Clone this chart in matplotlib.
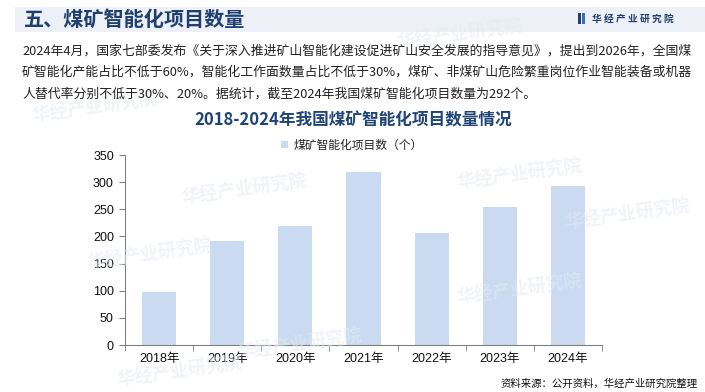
import matplotlib
matplotlib.use("Agg")
import matplotlib.pyplot as plt
from matplotlib.patches import Rectangle
from matplotlib.ticker import FixedLocator, NullFormatter

plt.rcParams['font.family'] = ['Liberation Sans', 'Noto Sans CJK SC', 'DejaVu Sans']

years = ["2018年", "2019年", "2020年", "2021年", "2022年", "2023年", "2024年"]
values = [98, 192, 220, 319, 207, 255, 292]
yticks = [0, 50, 100, 150, 200, 250, 300, 350]

header_title = "五、煤矿智能化项目数量"
brand = "华 经 产 业 研 究 院"
watermark = "华经产业研究院"
body_lines = [
    "2024年4月，国家七部委发布《关于深入推进矿山智能化建设促进矿山安全发展的指导意见》，提出到2026年，全国煤",
    "矿智能化产能占比不低于60%，智能化工作面数量占比不低于30%，煤矿、非煤矿山危险繁重岗位作业智能装备或机器",
    "人替代率分别不低于30%、20%。据统计，截至2024年我国煤矿智能化项目数量为292个。",
]
chart_title = "2018-2024年我国煤矿智能化项目数量情况"
legend_label = "煤矿智能化项目数（个）"
source = "资料来源：公开资料，华经产业研究院整理"

W, H = 705, 392
fig = plt.figure(figsize=(W / 100, H / 100), dpi=100)
fig.patch.set_facecolor("white")

cjk = ['Noto Sans CJK SC', 'DejaVu Sans']
dark_blue = "#1F3F6E"

# header band
fig.patches.append(Rectangle((15 / W, 1 - 32 / H), 1 - 15 / W, 25 / H,
                             transform=fig.transFigure, facecolor="#EDF1F7",
                             edgecolor="none", zorder=0))
fig.text(24 / W, 1 - 19.5 / H, header_title, fontsize=14.5, fontweight="bold",
         color=dark_blue, family=cjk, va="center", ha="left")
# brand icon
fig.patches.append(Rectangle((578 / W, 1 - 24 / H), 2.5 / W, 11 / H,
                             transform=fig.transFigure, facecolor=dark_blue,
                             edgecolor="none"))
fig.patches.append(Rectangle((582 / W, 1 - 24 / H), 2.5 / W, 11 / H,
                             transform=fig.transFigure, facecolor="#3A6FB0",
                             edgecolor="none"))
fig.text(592 / W, 1 - 18.5 / H, brand, fontsize=7, fontweight="bold",
         color=dark_blue, family=cjk, va="center", ha="left")

# faint watermarks
for wx, wy in [(460, 35), (95, 108), (245, 190), (150, 255), (520, 175),
               (628, 215), (180, 372), (300, 345), (520, 290)]:
    fig.text(wx / W, 1 - wy / H, watermark, fontsize=13, fontweight="bold",
             color="#E4EAF2", alpha=0.55, family=cjk, rotation=8,
             va="center", ha="center", zorder=0)

# body text
for i, line in enumerate(body_lines):
    fig.text(22 / W, 1 - (51 + i * 21.5) / H, line, fontsize=9.25,
             color="#222222", family=cjk, va="center", ha="left")

# chart title
fig.text(353 / W, 1 - 120 / H, chart_title, fontsize=12, fontweight="bold",
         color="#1F4577", family=cjk, va="center", ha="center")

# axes
ax = fig.add_axes([125 / W, 1 - 345 / H, (602 - 125) / W, (345 - 155) / H])
ax.patch.set_alpha(0)
x = list(range(len(years)))
bars = ax.bar(x, values, width=0.5, color="#C9DAF1", edgecolor="none",
              label=legend_label, zorder=2)
ax.set_xlim(-0.5, len(years) - 0.5)
ax.set_ylim(0, 350)
ax.set_yticks(yticks)
ax.set_yticklabels([str(v) for v in yticks], fontsize=9, color="#111111")
ax.set_xticks(x)
ax.set_xticklabels(years, fontsize=9, color="#111111")
ax.tick_params(axis="x", which="major", length=0, pad=6)
ax.xaxis.set_minor_locator(FixedLocator([i - 0.5 for i in range(len(years) + 1)]))
ax.xaxis.set_minor_formatter(NullFormatter())
ax.tick_params(axis="x", which="minor", length=4, color="#808080", direction="out")
ax.tick_params(axis="y", length=4, color="#808080", direction="out", pad=4)
for s in ["top", "right"]:
    ax.spines[s].set_visible(False)
for s in ["left", "bottom"]:
    ax.spines[s].set_color("#808080")
    ax.spines[s].set_linewidth(0.8)

leg = fig.legend(handles=[bars], labels=[legend_label], loc="center",
                 bbox_to_anchor=(352 / W, 1 - 145 / H), frameon=False,
                 handlelength=0.6, handleheight=0.6,
                 handletextpad=0.5, prop={'family': cjk, 'size': 8.5})
for t in leg.get_texts():
    t.set_color("#222222")

fig.text(698 / W, 1 - 384 / H, source, fontsize=7.5, color="#111111",
         family=cjk, va="center", ha="right")

fig.savefig("out.png", dpi=100, facecolor="white")
